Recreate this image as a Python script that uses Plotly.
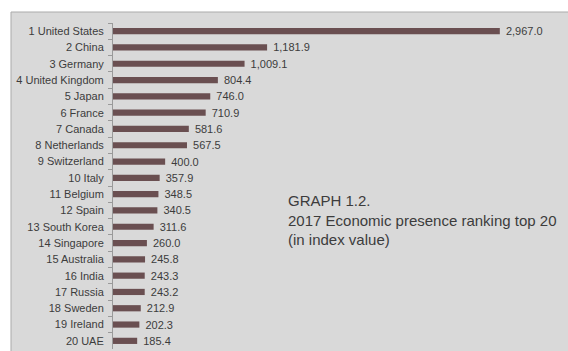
import plotly.graph_objects as go

countries = [
    "1 United States", "2 China", "3 Germany", "4 United Kingdom", "5 Japan",
    "6 France", "7 Canada", "8 Netherlands", "9 Switzerland", "10 Italy",
    "11 Belgium", "12 Spain", "13 South Korea", "14 Singapore", "15 Australia",
    "16 India", "17 Russia", "18 Sweden", "19 Ireland", "20 UAE",
]
index_values = [
    2967.0, 1181.9, 1009.1, 804.4, 746.0,
    710.9, 581.6, 567.5, 400.0, 357.9,
    348.5, 340.5, 311.6, 260.0, 245.8,
    243.3, 243.2, 212.9, 202.3, 185.4,
]

FONT = "Liberation Sans, Arial, Helvetica, sans-serif"
TEXT = "#3c3c3c"

fig = go.Figure(
    go.Bar(
        x=index_values,
        y=countries,
        orientation="h",
        marker=dict(color="#6a4f51", line=dict(width=0)),
        width=0.38,
        texttemplate="\u00a0%{x:,.1f}",
        textposition="outside",
        constraintext="none",
        cliponaxis=False,
        textfont=dict(family=FONT, size=11, color=TEXT),
        hoverinfo="skip",
    )
)

# grey panel behind the chart
fig.add_shape(
    type="rect", xref="paper", yref="paper",
    x0=-0.2242, x1=1.2, y0=-0.2, y1=1.0337,
    fillcolor="#d9d9d9", line=dict(color="#ababab", width=1),
    layer="below",
)

fig.add_annotation(
    xref="paper", yref="paper", x=0.381, y=0.487,
    xanchor="left", yanchor="top", align="left",
    text="GRAPH 1.2.<br>2017 Economic presence ranking top 20<br>(in index value)",
    showarrow=False,
    font=dict(family=FONT, size=15, color=TEXT),
)

fig.update_layout(
    width=568, height=351,
    margin=dict(l=113, r=0, t=23, b=2),
    paper_bgcolor="white",
    plot_bgcolor="rgba(0,0,0,0)",
    showlegend=False,
    font=dict(family=FONT, size=11, color=TEXT),
    xaxis=dict(range=[0, 3490], visible=False, fixedrange=True),
    yaxis=dict(
        autorange=False, range=[19.5, -0.5],
        type="category",
        showline=True, linecolor="#9a9a9a", linewidth=1,
        ticks="outside", tickson="boundaries", ticklen=4, tickcolor="#9a9a9a",
        ticklabelstandoff=6,
        showgrid=False, zeroline=False,
        tickfont=dict(family=FONT, size=11, color=TEXT),
        fixedrange=True,
    ),
)

fig.write_html("out.html")
